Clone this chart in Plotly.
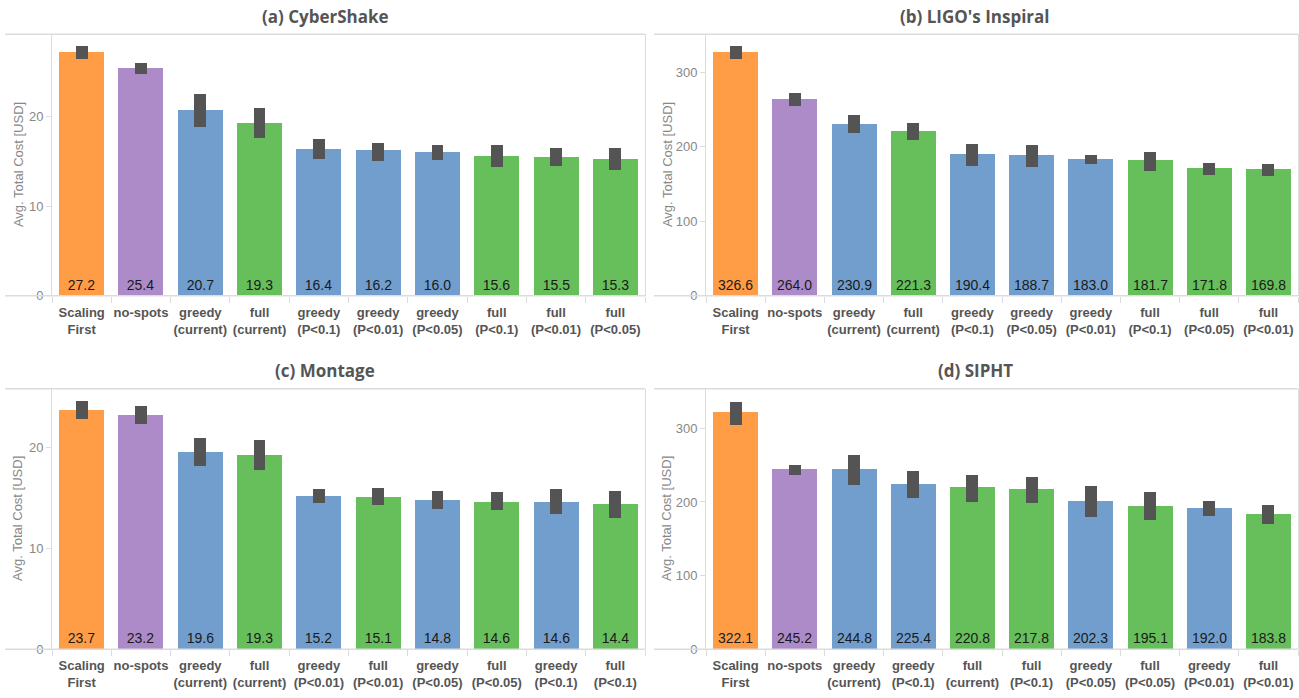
import plotly.graph_objects as go

W, H = 1299, 698

titles = ["(a) CyberShake", "(b) LIGO's Inspiral", "(c) Montage", "(d) SIPHT"]

cats_a = ["Scaling<br>First", "no-spots", "greedy<br>(current)", "full<br>(current)",
          "greedy<br>(P<0.1)", "greedy<br>(P<0.01)", "greedy<br>(P<0.05)",
          "full<br>(P<0.1)", "full<br>(P<0.01)", "full<br>(P<0.05)"]
vals_a = [27.2, 25.4, 20.7, 19.3, 16.4, 16.2, 16.0, 15.6, 15.5, 15.3]
lo_a = [26.45, 24.79, 18.82, 17.61, 15.29, 15.06, 15.17, 14.40, 14.51, 14.07]
hi_a = [27.88, 25.93, 22.47, 20.92, 17.50, 17.05, 16.83, 16.83, 16.50, 16.50]

cats_b = ["Scaling<br>First", "no-spots", "greedy<br>(current)", "full<br>(current)",
          "greedy<br>(P<0.1)", "greedy<br>(P<0.05)", "greedy<br>(P<0.01)",
          "full<br>(P<0.1)", "full<br>(P<0.05)", "full<br>(P<0.01)"]
vals_b = [326.6, 264.0, 230.9, 221.3, 190.4, 188.7, 183.0, 181.7, 171.8, 169.8]
lo_b = [317.7, 254.0, 218.1, 208.8, 174.3, 173.0, 177.0, 167.7, 162.4, 161.1]
hi_b = [335.0, 271.2, 242.0, 231.4, 203.5, 202.2, 188.9, 192.9, 178.3, 177.0]

cats_c = ["Scaling<br>First", "no-spots", "greedy<br>(current)", "full<br>(current)",
          "greedy<br>(P<0.01)", "full<br>(P<0.01)", "greedy<br>(P<0.05)",
          "full<br>(P<0.05)", "greedy<br>(P<0.1)", "full<br>(P<0.1)"]
vals_c = [23.7, 23.2, 19.6, 19.3, 15.2, 15.1, 14.8, 14.6, 14.6, 14.4]
lo_c = [22.81, 22.32, 18.20, 17.81, 14.48, 14.28, 13.89, 13.79, 13.40, 13.01]
hi_c = [24.58, 24.08, 20.95, 20.75, 15.85, 15.95, 15.65, 15.56, 15.85, 15.65]

cats_d = ["Scaling<br>First", "no-spots", "greedy<br>(current)", "greedy<br>(P<0.1)",
          "full<br>(current)", "full<br>(P<0.1)", "greedy<br>(P<0.05)",
          "full<br>(P<0.05)", "greedy<br>(P<0.01)", "full<br>(P<0.01)"]
vals_d = [322.1, 245.2, 244.8, 225.4, 220.8, 217.8, 202.3, 195.1, 192.0, 183.8]
lo_d = [304.5, 237.3, 223.9, 205.1, 199.7, 198.4, 179.6, 175.5, 180.9, 170.2]
hi_d = [336.8, 250.8, 264.2, 242.7, 237.3, 234.7, 222.6, 213.2, 201.1, 195.7]

y_max = [29.2, 351, 25.8, 353.8]
y_dtick = [10, 100, 10, 100]

panels = [(cats_a, vals_a, lo_a, hi_a), (cats_b, vals_b, lo_b, hi_b),
          (cats_c, vals_c, lo_c, hi_c), (cats_d, vals_d, lo_d, hi_d)]

COL = {"Scaling": "#FF9D47", "no-spots": "#AD8BC9", "greedy": "#729ECE", "full": "#67BF5C"}


def color_of(c):
    for k, v in COL.items():
        if c.startswith(k):
            return v
    return "#999"


# layout geometry in pixels
plot_x = [(52, 645), (706, 1298), (52, 645), (706, 1298)]
panel_left = [5, 654, 5, 654]
plot_y = [(34.7, 299.3), (34.7, 299.3), (393.3, 656.7), (393.3, 656.7)]
title_xy = [(325, 17), (975, 17), (325, 375), (975, 375)]
ytitle_x = [18, 667, 18, 667]

fig = go.Figure()
LINE = "#dcdcdc"
FONT = "Liberation Sans, Arial, sans-serif"

shapes = []
annotations = []
for i, (cats, vals, lo, hi) in enumerate(panels):
    n = "" if i == 0 else str(i + 1)
    xa, ya = "x" + n, "y" + n
    fig.add_trace(go.Bar(
        x=cats, y=vals, width=0.76, xaxis=xa, yaxis=ya,
        marker=dict(color=[color_of(c) for c in cats], line=dict(width=0)),
        texttemplate="%{y:.1f}", textposition="inside", insidetextanchor="start",
        textangle=0, textfont=dict(family=FONT, size=14, color="#1a1a1a"),
        showlegend=False, hoverinfo="skip"))
    fig.add_trace(go.Bar(
        x=cats, y=[h - l for h, l in zip(hi, lo)], base=lo, width=0.2,
        xaxis=xa, yaxis=ya, marker=dict(color="#545454", line=dict(width=0)),
        showlegend=False, hoverinfo="skip"))

    x0, x1 = plot_x[i]
    yt, yb = plot_y[i]
    dom_x = [x0 / W, x1 / W]
    dom_y = [1 - yb / H, 1 - yt / H]
    fig.layout["xaxis" + n] = dict(
        domain=dom_x, anchor=ya, type="category", tickson="boundaries",
        ticks="outside", ticklen=6, tickcolor=LINE, showline=False,
        showgrid=False, zeroline=False, fixedrange=True, tickangle=0,
        ticklabelstandoff=7,
        tickfont=dict(family=FONT, size=13, color="#555555", weight="bold"))
    fig.layout["yaxis" + n] = dict(
        domain=dom_y, anchor=xa, range=[0, y_max[i]], dtick=y_dtick[i],
        showline=True, mirror=True, linecolor=LINE, linewidth=1,
        ticks="outside", ticklen=5, tickcolor=LINE, showgrid=False,
        zeroline=False, fixedrange=True,
        tickfont=dict(family=FONT, size=13, color="#888888"))
    for yy in (yt, yb):
        shapes.append(dict(type="line", xref="paper", yref="paper",
                           x0=panel_left[i] / W, x1=x1 / W,
                           y0=1 - yy / H, y1=1 - yy / H,
                           line=dict(color=LINE, width=1.5)))
    tx, ty = title_xy[i]
    annotations.append(dict(text=titles[i], xref="paper", yref="paper",
                            x=tx / W, y=1 - ty / H, xanchor="center", yanchor="middle",
                            showarrow=False,
                            font=dict(family="Open Sans", size=17, color="#555555",
                                      weight="bold")))
    annotations.append(dict(text="Avg. Total Cost [USD]", xref="paper", yref="paper",
                            x=ytitle_x[i] / W, y=1 - (yt + yb) / 2 / H,
                            xanchor="center", yanchor="middle", textangle=-90,
                            showarrow=False,
                            font=dict(family=FONT, size=13, color="#888888")))

fig.update_layout(
    width=W, height=H, barmode="overlay", bargap=0,
    margin=dict(l=0, r=0, t=0, b=0),
    paper_bgcolor="white", plot_bgcolor="white",
    shapes=shapes, annotations=annotations,
)

fig.write_html("out.html", config={"displayModeBar": False},
               post_script="document.body.style.margin='0';document.body.style.overflow='hidden';")
